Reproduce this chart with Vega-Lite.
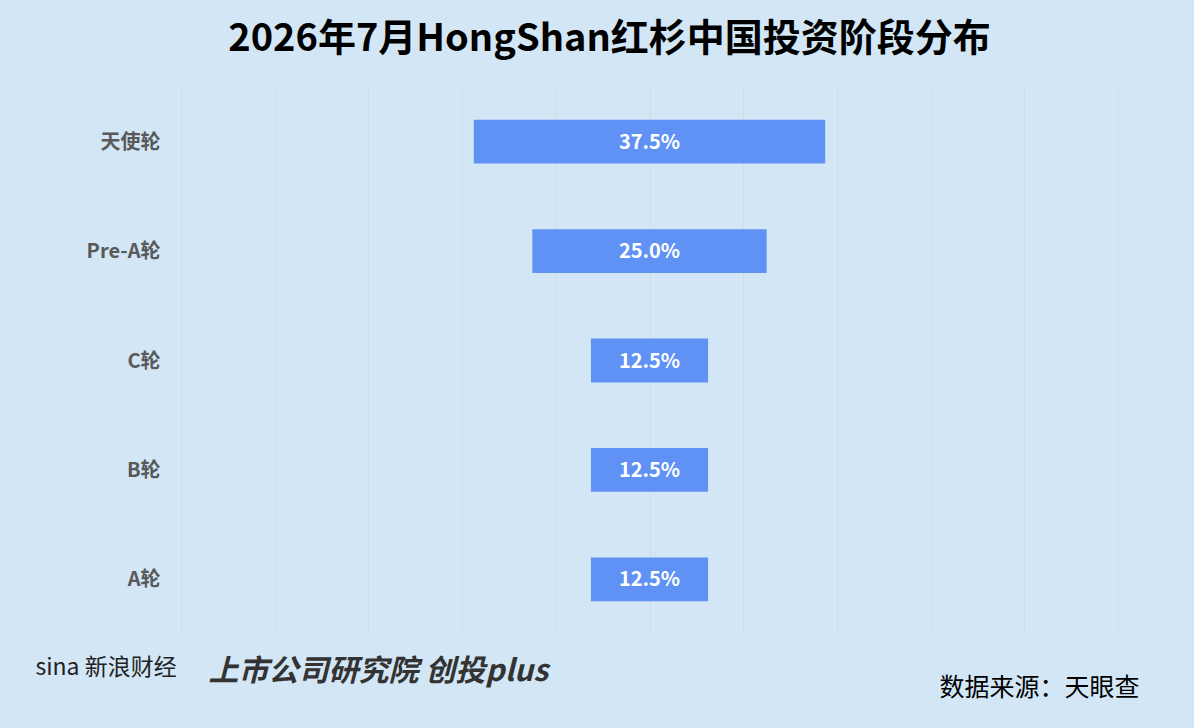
{
  "$schema": "https://vega.github.io/schema/vega-lite/v6.json",
  "description": "HongShan stage distribution, centered bars",
  "autosize": "none",
  "padding": {"left": 181, "top": 87, "right": 76, "bottom": 94},
  "width": 937,
  "height": 547,
  "background": "#d2e6f5",
  "config": {
    "font": "Noto Sans CJK SC",
    "view": {"stroke": null}
  },
  "title": {
    "text": "2026年7月HongShan红杉中国投资阶段分布",
    "fontSize": 38,
    "fontWeight": "bold",
    "color": "#000000",
    "anchor": "middle",
    "frame": "group",
    "dx": -40,
    "offset": 28
  },
  "data": {
    "values": [
      {"stage": "天使轮", "pct": 0.375},
      {"stage": "Pre-A轮", "pct": 0.25},
      {"stage": "C轮", "pct": 0.125},
      {"stage": "B轮", "pct": 0.125},
      {"stage": "A轮", "pct": 0.125}
    ]
  },
  "encoding": {
    "y": {
      "field": "stage",
      "type": "nominal",
      "sort": null,
      "scale": {"paddingInner": 0.6, "paddingOuter": 0.3},
      "axis": {
        "title": "sina 新浪财经",
        "titleAngle": 0,
        "titleX": -146,
        "titleY": 580,
        "titleAlign": "left",
        "titleBaseline": "middle",
        "titleFontSize": 23,
        "titleFontWeight": "normal",
        "titleColor": "#222222",
        "labelFontSize": 20,
        "labelFontWeight": "bold",
        "labelColor": "#595959",
        "labelPadding": 21,
        "labelOffset": 1,
        "ticks": false,
        "domain": false,
        "grid": false
      }
    }
  },
  "layer": [
    {
      "mark": {"type": "bar", "color": "#6092f5"},
      "encoding": {
        "x": {
          "field": "pct",
          "type": "quantitative",
          "stack": "center",
          "scale": {"domain": [-0.3125, 0.6875], "nice": false},
          "axis": {
            "values": [-0.3125, -0.2125, -0.1125, -0.0125, 0.0875, 0.1875, 0.2875, 0.3875, 0.4875, 0.5875, 0.6875],
            "grid": true,
            "gridColor": "#d9d9d9",
            "gridWidth": 1,
            "labels": false,
            "ticks": false,
            "domain": false,
            "title": "数据来源：天眼查",
            "titleX": 958,
            "titleY": 61,
            "titleAlign": "right",
            "titleBaseline": "alphabetic",
            "titleFontSize": 25,
            "titleFontWeight": "normal",
            "titleColor": "#000000"
          }
        }
      }
    },
    {
      "mark": {"type": "text", "color": "#ffffff", "fontSize": 20, "fontWeight": "bold", "dy": 1},
      "encoding": {
        "x": {
          "datum": 0.1875,
          "type": "quantitative",
          "axis": {
            "orient": "bottom",
            "grid": false,
            "labels": false,
            "ticks": false,
            "domain": false,
            "title": "上市公司研究院 创投plus",
            "titleX": 27,
            "titleY": 46,
            "titleAlign": "left",
            "titleBaseline": "alphabetic",
            "titleFontSize": 30,
            "titleFontWeight": "bold",
            "titleFontStyle": "italic",
            "titleColor": "#333333"
          }
        },
        "text": {"field": "pct", "type": "quantitative", "format": ".1%"}
      }
    }
  ],
  "resolve": {"axis": {"x": "independent"}}
}
